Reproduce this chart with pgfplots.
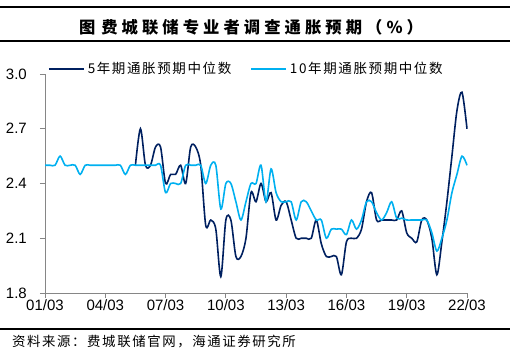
\documentclass[border=0pt]{standalone}
\usepackage{fontspec}
\setmainfont{Liberation Sans}
\newfontfamily\cjk{Noto Sans CJK SC}
\newfontfamily\cjkt{Noto Sans CJK SC}[LetterSpace=25]
\newfontfamily\cjkl{Noto Sans CJK SC}[LetterSpace=12]
\usepackage{pgfplots}
\usepackage{pgfplotstable}
\pgfplotsset{compat=1.18}
\definecolor{dark}{HTML}{002060}
\definecolor{light}{HTML}{00B0F0}
\definecolor{axgray}{HTML}{868686}

\pgfplotstableread{
q v
18 2.50
19 2.70
20 2.50
21 2.50
22 2.60
23 2.60
24 2.40
25 2.45
26 2.45
27 2.50
28 2.40
29 2.60
30 2.60
31 2.50
32 2.17
33 2.20
34 2.15
35 1.89
36 2.20
37 2.20
38 2.00
39 2.00
40 2.10
41 2.35
42 2.30
43 2.40
44 2.30
45 2.35
46 2.20
47 2.28
48 2.30
49 2.20
50 2.10
51 2.10
52 2.10
53 2.10
54 2.20
55 2.07
56 2.00
57 2.00
58 2.00
59 1.90
60 2.08
61 2.10
62 2.10
63 2.15
64 2.30
65 2.35
66 2.20
67 2.20
68 2.20
69 2.20
70 2.20
71 2.25
72 2.13
73 2.10
74 2.08
75 2.20
76 2.20
77 2.10
78 1.90
79 2.08
80 2.30
81 2.55
82 2.80
83 2.90
84 2.70
}\fiveyr

\pgfplotstableread{
q v
0 2.50
1 2.50
2 2.50
3 2.55
4 2.50
5 2.50
6 2.50
7 2.45
8 2.50
9 2.50
10 2.50
11 2.50
12 2.50
13 2.50
14 2.50
15 2.50
16 2.45
17 2.50
18 2.50
19 2.50
20 2.50
21 2.50
22 2.50
23 2.50
24 2.35
25 2.40
26 2.40
27 2.40
28 2.50
29 2.50
30 2.50
31 2.50
32 2.40
33 2.50
34 2.50
35 2.26
36 2.40
37 2.40
38 2.30
39 2.20
40 2.30
41 2.40
42 2.40
43 2.50
44 2.30
45 2.48
46 2.35
47 2.30
48 2.30
49 2.30
50 2.20
51 2.30
52 2.30
53 2.25
54 2.20
55 2.20
56 2.10
57 2.15
58 2.15
59 2.15
60 2.12
61 2.20
62 2.15
63 2.20
64 2.30
65 2.30
66 2.24
67 2.20
68 2.24
69 2.30
70 2.21
71 2.21
72 2.20
73 2.20
74 2.20
75 2.20
76 2.20
77 2.13
78 2.03
79 2.10
80 2.20
81 2.35
82 2.45
83 2.55
84 2.50
}\tenyr

\begin{document}
\begin{tikzpicture}
\useasboundingbox (0,0) rectangle (516bp,-356bp);
\draw[line width=1.4bp] (0,-7bp) -- (510bp,-7bp);
\draw[line width=1.4bp] (0,-41bp) -- (510bp,-41bp);
\node[font=\cjkt\bfseries\fontsize{16.3bp}{16.3bp}\selectfont, inner sep=0pt] at (251bp,-27bp) {图\hspace{6bp}费城联储专业者调查通胀预期（\%）};
\draw[line width=1.4bp] (0,-329bp) -- (510bp,-329bp);
\node[font=\cjkl\fontsize{13.4bp}{13.4bp}\selectfont, inner sep=0pt, anchor=west] at (12bp,-342bp) {资料来源：费城联储官网，海通证券研究所};
\begin{axis}[
  at={(45bp,-293bp)}, anchor=south west,
  scale only axis, width=422bp, height=219bp,
  xmin=0, xmax=84, ymin=1.8, ymax=3.0,
  axis lines*=left,
  axis line style={axgray, line width=0.8bp},
  every tick/.style={axgray, line width=0.8bp},
  tick align=outside, major tick length=5bp,
  xtick={0,12,...,84},
  xticklabels={01/03,04/03,07/03,10/03,13/03,16/03,19/03,22/03},
  ytick={1.8,2.1,...,3.05},
  /pgf/number format/fixed, /pgf/number format/fixed zerofill, /pgf/number format/precision=1,
  /pgf/number format/assume math mode=true,
  ticklabel style={font=\fontsize{15bp}{15bp}\selectfont, inner sep=0pt},
  xticklabel style={anchor=north, yshift=-1bp},
  yticklabel style={anchor=east, xshift=-13bp},
  legend columns=2,
  legend style={at={(axis description cs:0.007,1.023)}, anchor=west, draw=none, fill=none, inner sep=0pt,
     font=\cjkl\fontsize{13.5bp}{13.5bp}\selectfont,
     nodes={inner xsep=3bp, inner ysep=0pt},
     /tikz/every even column/.append style={column sep=16bp}},
  legend image code/.code={\draw[#1] (0bp,0bp) -- (35bp,0bp);},
  clip=false,
]
\addplot[dark, line width=1.6bp, smooth, tension=0.5] table[x=q, y=v] {\fiveyr};
\addlegendentry{5年期通胀预期中位数}
\addplot[light, line width=1.6bp, smooth, tension=0.5] table[x=q, y=v] {\tenyr};
\addlegendentry{10年期通胀预期中位数}
\end{axis}
\end{tikzpicture}
\end{document}
